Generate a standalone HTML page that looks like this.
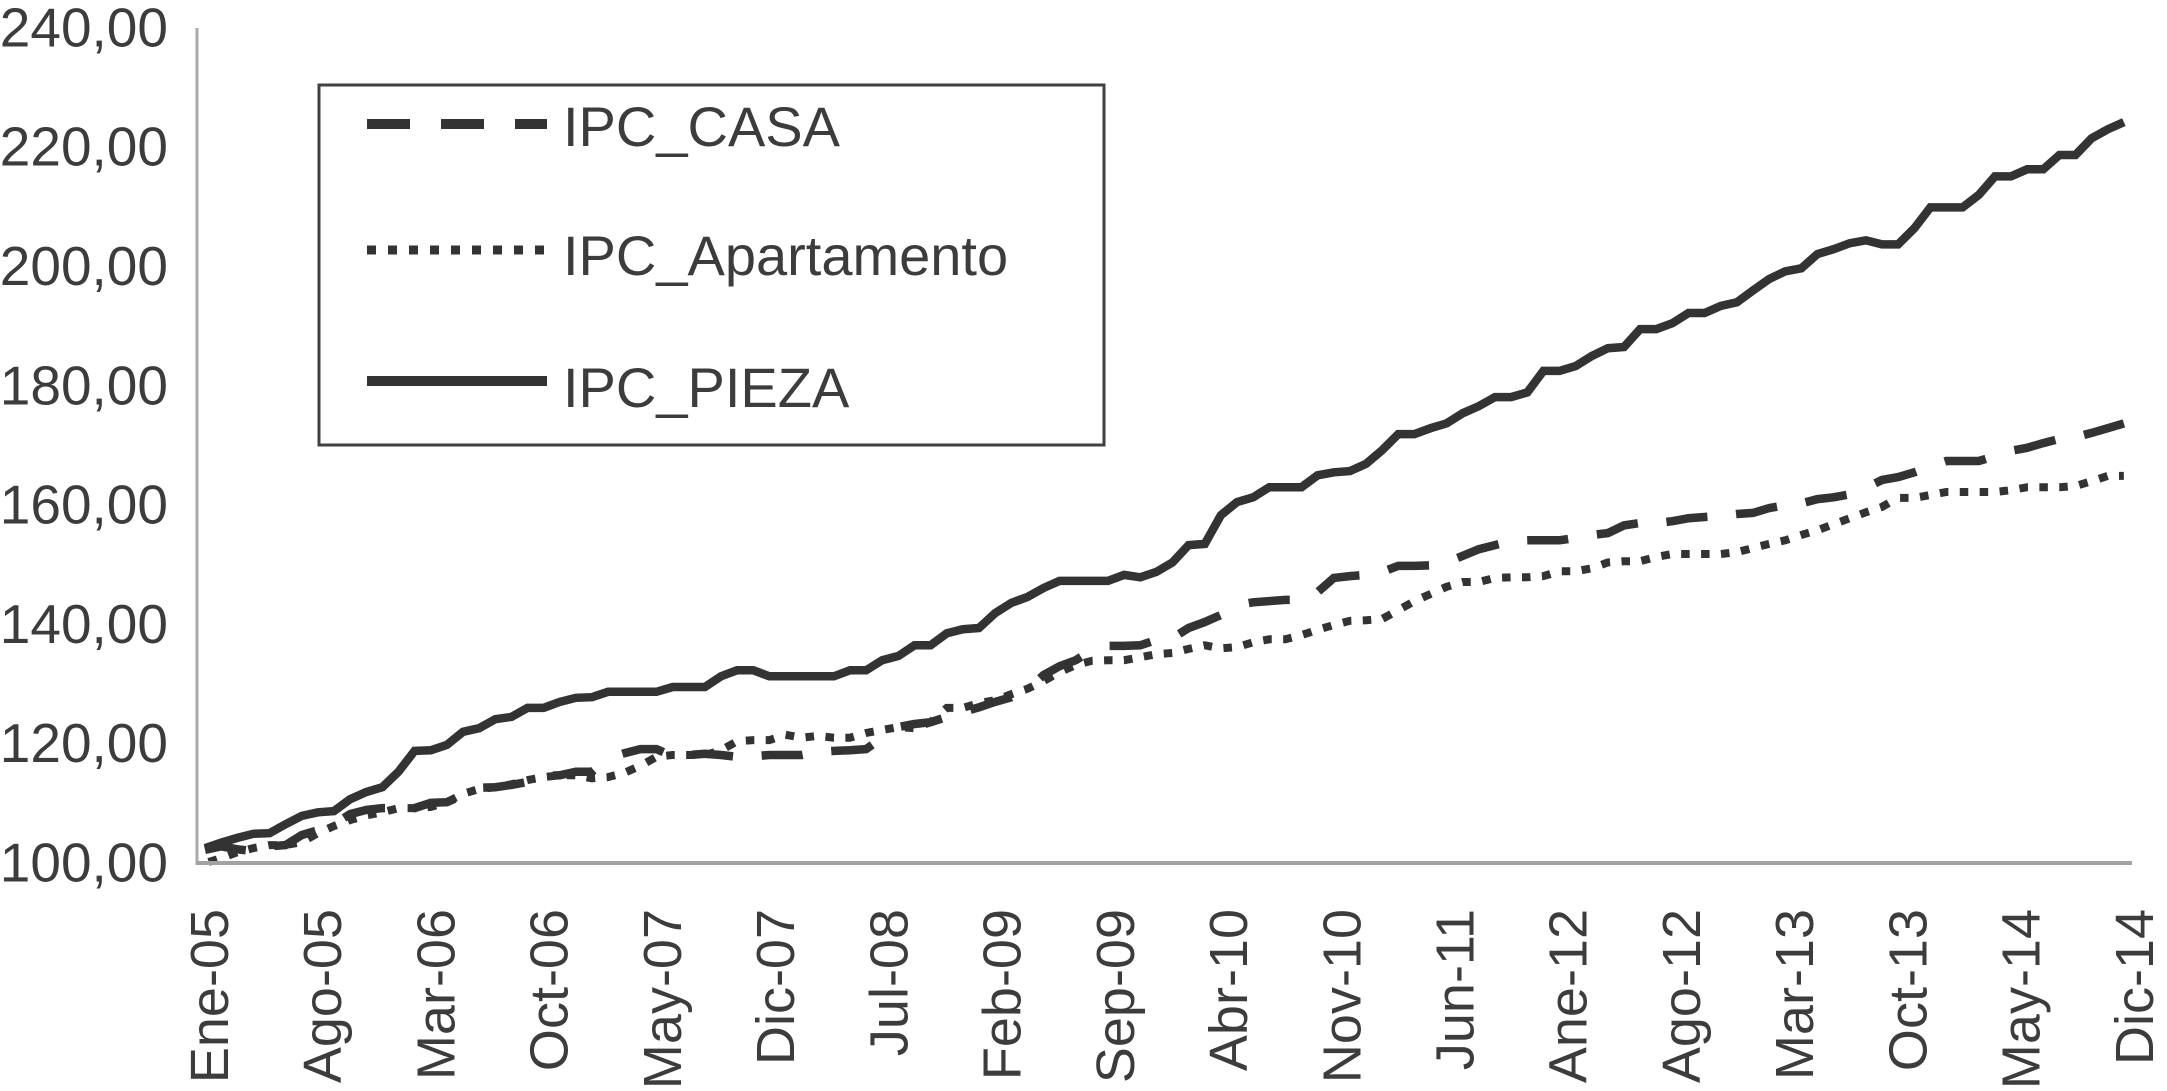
<!DOCTYPE html>
<html lang="es">
<head>
<meta charset="utf-8">
<title>IPC por tipo de vivienda</title>
<style>
  html, body { margin: 0; padding: 0; background: #fff; }
  body { width: 2167px; height: 1091px; overflow: hidden; }
  svg { display: block; }
  text { font-family: "Liberation Sans", Arial, sans-serif; fill: #3c3c3c; }
</style>
</head>
<body>
<svg id="chart" width="2167" height="1091" viewBox="0 0 2167 1091" xmlns="http://www.w3.org/2000/svg">
  <g id="series"></g>
  <line x1="197" y1="28" x2="197" y2="865" stroke="#aaaaaa" stroke-width="3"/>
  <line x1="196" y1="863" x2="2132" y2="863" stroke="#a2a2a2" stroke-width="4"/>
  <g id="y-ticks"></g>
  <g id="x-ticks"></g>
  <g>
    <rect x="319" y="85" width="785" height="360" fill="#ffffff" stroke="#404040" stroke-width="3"/>
    <line x1="367" y1="124" x2="547" y2="124" stroke="#333333" stroke-width="10" stroke-dasharray="43 31"/>
    <text x="563" y="146" font-size="56">IPC_CASA</text>
    <line x1="367" y1="250" x2="547" y2="250" stroke="#333333" stroke-width="9" stroke-dasharray="9 12"/>
    <text x="563" y="275" font-size="56">IPC_Apartamento</text>
    <line x1="367" y1="381" x2="547" y2="381" stroke="#333333" stroke-width="10"/>
    <text x="563" y="407" font-size="56">IPC_PIEZA</text>
  </g>
</svg>
<script>
const yTickValues = [100, 120, 140, 160, 180, 200, 220, 240];
const yTickLabels = ["100,00", "120,00", "140,00", "160,00", "180,00", "200,00", "220,00", "240,00"];
const xTickLabels = ["Ene-05", "Ago-05", "Mar-06", "Oct-06", "May-07", "Dic-07", "Jul-08", "Feb-09", "Sep-09", "Abr-10", "Nov-10", "Jun-11", "Ane-12", "Ago-12", "Mar-13", "Oct-13", "May-14", "Dic-14"];
const monthsPerLabel = 7;

const ipcCasa = [
  102.2,102.8,102.3,102.0,102.8,103.0,104.7,105.5,106.5,108.2,108.9,109.2,
  109.2,109.2,110.1,110.2,111.4,112.6,112.7,113.1,113.6,114.6,114.7,115.3,
  115.3,117.6,118.4,119.1,119.1,117.9,118.1,118.3,118.1,117.8,117.9,118.1,
  118.1,118.1,118.6,118.8,118.9,119.1,121.0,122.8,123.3,123.6,124.5,125.3,
  126.1,127.0,127.8,129.0,131.5,133.0,134.0,135.7,136.4,136.4,136.5,137.4,
  137.7,139.4,140.4,141.6,143.2,143.7,143.9,144.1,144.1,145.4,147.8,148.1,
  148.3,148.8,149.8,149.8,149.9,150.4,151.5,152.6,153.3,154.0,154.1,154.1,
  154.1,154.5,155.0,155.3,156.6,157.0,157.0,157.3,157.8,158.0,158.2,158.5,
  158.7,159.5,160.0,160.3,161.0,161.3,161.8,162.9,164.2,164.7,165.5,166.5,
  167.4,167.4,167.4,168.2,169.1,169.6,170.4,171.1,171.4,172.1,172.9,173.7
];
const ipcApartamento = [
  100.0,100.8,101.8,102.5,103.0,103.0,103.5,105.0,106.2,107.2,108.0,108.5,
  109.2,109.2,109.4,110.2,111.6,112.4,112.7,113.2,113.9,114.4,114.7,114.7,
  114.2,114.4,115.1,116.3,117.8,118.1,118.1,118.1,118.9,120.4,120.6,120.6,
  121.5,121.0,121.3,121.0,121.0,121.8,122.3,122.8,122.6,123.6,126.0,126.0,
  126.8,127.3,128.3,129.2,130.5,132.0,133.2,133.9,134.0,134.0,134.5,135.0,
  135.2,135.9,136.5,136.0,136.2,137.0,137.5,137.5,138.2,139.1,139.9,140.6,
  140.7,140.9,142.4,143.9,145.1,146.3,147.1,147.1,147.8,147.9,147.9,148.1,
  148.9,148.9,149.4,150.4,150.6,150.6,151.3,151.8,151.8,151.8,151.8,152.1,
  152.8,153.5,154.1,155.0,155.8,156.8,157.8,158.8,159.7,161.2,161.2,161.7,
  162.2,162.2,162.2,162.2,162.5,163.0,163.0,163.0,163.2,164.0,164.9,164.9
];
const ipcPieza = [
  102.5,103.4,104.2,104.9,105.0,106.5,107.9,108.5,108.7,110.7,111.9,112.7,
  115.3,118.8,118.9,119.8,122.0,122.6,124.1,124.5,126.0,126.0,127.0,127.7,
  127.8,128.7,128.7,128.7,128.7,129.5,129.5,129.5,131.3,132.3,132.3,131.3,
  131.3,131.3,131.3,131.3,132.3,132.3,134.0,134.7,136.5,136.5,138.5,139.2,
  139.4,141.9,143.6,144.6,146.1,147.3,147.3,147.3,147.3,148.3,147.9,148.8,
  150.4,153.3,153.5,158.3,160.5,161.3,163.0,163.0,163.0,165.0,165.5,165.7,
  166.9,169.2,171.9,171.9,172.9,173.7,175.4,176.6,178.1,178.1,178.9,182.5,
  182.5,183.3,185.0,186.3,186.5,189.5,189.5,190.5,192.2,192.2,193.4,194.0,
  196.0,197.9,199.2,199.7,202.1,202.9,203.9,204.4,203.7,203.7,206.4,209.9,
  209.9,209.9,212.0,215.1,215.1,216.3,216.3,218.7,218.7,221.5,223.0,224.2
];

const SVG_NS = "http://www.w3.org/2000/svg";

function xScale(i) {
  return 205 + i * 16.125;
}
function yScale(v) {
  return 863 - (v - 100) * 5.965;
}
function linePoints(values) {
  return values.map(function (v, i) {
    return xScale(i).toFixed(1) + "," + yScale(v).toFixed(1);
  }).join(" ");
}

/* Arc length of the drawn line from its start to horizontal position x. */
function lengthAtX(values, x) {
  let total = 0;
  for (let i = 1; i < values.length; i++) {
    const x0 = xScale(i - 1), x1 = xScale(i);
    const y0 = yScale(values[i - 1]), y1 = yScale(values[i]);
    const seg = Math.hypot(x1 - x0, y1 - y0);
    if (x >= x1) {
      total += seg;
    } else {
      if (x > x0) total += seg * (x - x0) / (x1 - x0);
      break;
    }
  }
  return total;
}

/* Dash pattern whose dashes repeat at a fixed horizontal period, like the original's. */
function horizontalDashArray(values, lastDashStart, period, dashWidth) {
  const first = xScale(0);
  const starts = [];
  for (let s = lastDashStart; s + dashWidth > first; s -= period) starts.unshift(s);
  const parts = [];
  let cursor = 0;
  if (starts[0] > first) {
    parts.push(0, lengthAtX(values, starts[0]));
    cursor = lengthAtX(values, starts[0]);
  }
  starts.forEach(function (s) {
    const end = lengthAtX(values, s + dashWidth);
    parts.push(Math.max(end - cursor, 0.01));
    cursor = end;
    const next = lengthAtX(values, s + period);
    parts.push(Math.max(next - cursor, 0.01));
    cursor = next;
  });
  parts.push(0, 100000);
  return parts.map(function (n) { return n.toFixed(2); }).join(" ");
}

const seriesGroup = document.getElementById("series");

const casaLine = document.createElementNS(SVG_NS, "polyline");


casaLine.setAttribute("points", linePoints(ipcCasa));
casaLine.setAttribute("fill", "none");
casaLine.setAttribute("stroke", "#333333");
casaLine.setAttribute("stroke-width", "8.5");
casaLine.setAttribute("stroke-dasharray", horizontalDashArray(ipcCasa, 2084, 69.6, 41));
seriesGroup.appendChild(casaLine);

const apartamentoLine = document.createElementNS(SVG_NS, "polyline");


apartamentoLine.setAttribute("points", linePoints(ipcApartamento));
apartamentoLine.setAttribute("fill", "none");
apartamentoLine.setAttribute("stroke", "#333333");
apartamentoLine.setAttribute("stroke-width", "8");
apartamentoLine.setAttribute("stroke-dasharray", horizontalDashArray(ipcApartamento, 2119, 19.9, 8.5));
seriesGroup.appendChild(apartamentoLine);

const piezaLine = document.createElementNS(SVG_NS, "polyline");


piezaLine.setAttribute("points", linePoints(ipcPieza));
piezaLine.setAttribute("fill", "none");
piezaLine.setAttribute("stroke", "#333333");
piezaLine.setAttribute("stroke-width", "8.5");
seriesGroup.appendChild(piezaLine);

const yTickGroup = document.getElementById("y-ticks");
yTickValues.forEach(function (v, k) {
  const label = document.createElementNS(SVG_NS, "text");
  
  
  label.setAttribute("x", "168");
  label.setAttribute("y", (yScale(v) + 18.5).toFixed(1));
  label.setAttribute("font-size", "55");
  label.setAttribute("text-anchor", "end");
  label.textContent = yTickLabels[k];
  yTickGroup.appendChild(label);
});

const xTickGroup = document.getElementById("x-ticks");
xTickLabels.forEach(function (name, k) {
  const i = k * monthsPerLabel;
  const bx = xScale(i) + 23 + i * 0.05;
  const label = document.createElementNS(SVG_NS, "text");
  
  
  label.setAttribute("transform", "translate(" + bx.toFixed(1) + ",909) rotate(-90)");
  label.setAttribute("font-size", "54");
  label.setAttribute("text-anchor", "end");
  label.textContent = name;
  xTickGroup.appendChild(label);
});
</script>
</body>
</html>
